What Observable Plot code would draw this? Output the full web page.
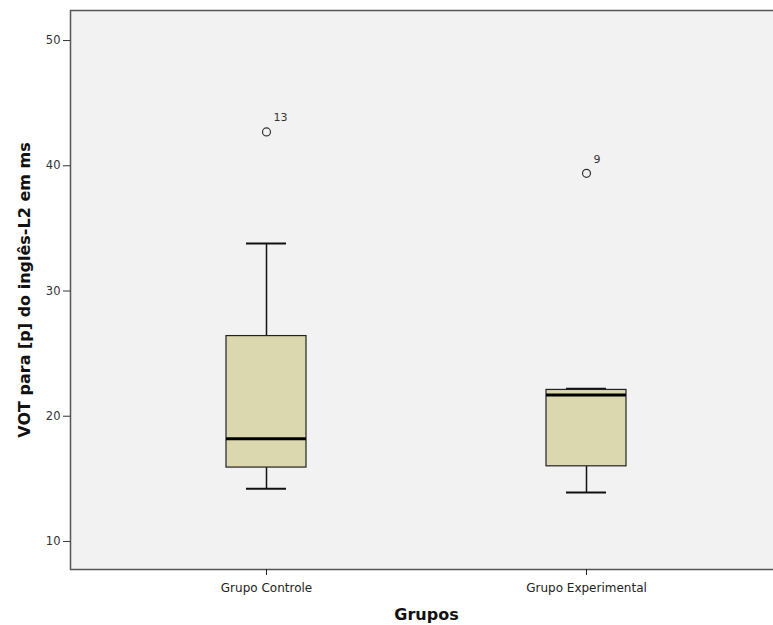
<!DOCTYPE html>
<html>
<head>
<meta charset="utf-8">
<script src="https://cdn.jsdelivr.net/npm/d3@7"></script>
<script src="https://cdn.jsdelivr.net/npm/@observablehq/plot@0.6"></script>
<style>
  html, body { margin: 0; padding: 0; background: #fff; overflow: hidden; width: 773px; height: 625px; }
  #chart svg { max-width: none !important; }
</style>
</head>
<body>
<div id="chart"></div>
<script>
// Summary values
const groups = ["Grupo Controle", "Grupo Experimental"];
const lowerWhisker = [14.2, 13.9];
const q1 = [15.9, 16.0];
const median = [18.2, 21.7];
const q3 = [26.4, 22.1];
const upperWhisker = [33.8, 22.2];
const outlierGroup = ["Grupo Controle", "Grupo Experimental"];
const outlierValue = [42.7, 39.4];
const outlierLabel = ["13", "9"];
const yTicks = [10, 20, 30, 40, 50];

const boxes = groups.map((g, i) => ({
  group: g, lo: lowerWhisker[i], q1: q1[i], med: median[i], q3: q3[i], hi: upperWhisker[i]
}));
const outliers = outlierGroup.map((g, i) => ({group: g, value: outlierValue[i], label: outlierLabel[i]}));

const chart = Plot.plot({
  width: 782,
  height: 625,
  marginLeft: 70,
  marginRight: 0,
  marginTop: 10,
  marginBottom: 56,
  style: {background: "#fff", fontFamily: "DejaVu Sans", fontSize: "12px", color: "#222", maxWidth: "none"},
  x: {type: "band", domain: groups, paddingInner: 0.75, paddingOuter: 0.4875, label: null},
  y: {domain: [7.76, 52.4], label: null},
  marks: [
    Plot.frame({fill: "#f2f2f2", stroke: null}),
    Plot.ruleX(boxes, {x: "group", y1: "q3", y2: "hi", stroke: "#111", strokeWidth: 1.5}),
    Plot.ruleX(boxes, {x: "group", y1: "lo", y2: "q1", stroke: "#111", strokeWidth: 1.5}),
    Plot.tickY(boxes, {x: "group", y: "hi", stroke: "#111", strokeWidth: 2, insetLeft: 20, insetRight: 20}),
    Plot.tickY(boxes, {x: "group", y: "lo", stroke: "#111", strokeWidth: 2, insetLeft: 20, insetRight: 20}),
    Plot.barY(boxes, {x: "group", y1: "q1", y2: "q3", fill: "#dbd7ae", stroke: "#222", strokeWidth: 1.2}),
    Plot.tickY(boxes, {x: "group", y: "med", stroke: "#000", strokeWidth: 3}),
    Plot.dot(outliers, {x: "group", y: "value", r: 4, stroke: "#333", strokeWidth: 1.2, fill: "none"}),
    Plot.text(outliers, {x: "group", y: "value", text: "label", dx: 7, dy: -14, textAnchor: "start", fontSize: 11, fill: "#333", fontFamily: "DejaVu Sans"}),
    Plot.frame({stroke: "#555", strokeWidth: 1.5}),
    Plot.axisY({ticks: yTicks, tickSize: 7, tickPadding: 3, fontSize: 11.5, stroke: "#333", fill: "#333", label: "VOT para [p] do inglês-L2 em ms", labelAnchor: "center", labelArrow: "none", labelOffset: 52}),
    Plot.axisX({tickSize: 6, tickPadding: 8, fontSize: 12, fontFamily: "DejaVu Sans", fill: "#222", label: "Grupos", labelAnchor: "center", labelArrow: "none", labelOffset: 50})
  ]
});
chart.style.maxWidth = "none";
document.getElementById("chart").appendChild(chart);

// style axis labels to match
chart.querySelectorAll("g[aria-label='y-axis label'] text, g[aria-label='x-axis label'] text").forEach(t => {
  t.setAttribute("font-weight", "bold");
  t.setAttribute("font-size", "16");
  t.setAttribute("font-family", "DejaVu Sans");
  t.setAttribute("fill", "#111");
});
</script>
</body>
</html>
